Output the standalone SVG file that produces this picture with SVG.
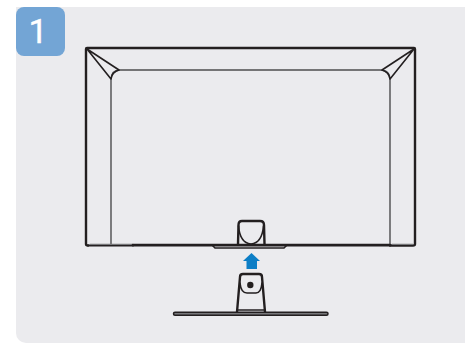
<svg xmlns="http://www.w3.org/2000/svg" width="465" height="343" viewBox="0 0 465 343">
<style>
.k{fill:none;stroke:#231f20;stroke-linejoin:round;stroke-linecap:round}
.o{stroke-width:2.4}
.t{stroke-width:2.8}
.m{stroke-width:1.6}
.g{stroke:#4d4d4f;stroke-width:1.4}
.l{stroke:#77777a;stroke-width:1.2}
</style>
<rect width="465" height="343" fill="#ffffff"/>
<path d="M16 7H465V343H26a10 10 0 0 1-10-10Z" fill="#ebebee"/>
<g id="badge">
<rect x="16" y="7" width="49" height="49" rx="8" fill="#73a5d5"/>
<text x="38" y="43" font-family="Roboto, Arial, sans-serif" font-size="34" fill="#ffffff" stroke="#ffffff" stroke-width="0.4" text-anchor="middle">1</text>
</g>
<g id="monitor">
<path class="k g" d="M111 245V80Q111 70 120 70H380Q390 70 390 80V245"/>
<path class="k m" d="M87 49L119 70Q112 72 111 79ZM414 49L382 70Q389 72 390 79Z"/>
<path class="k o" d="M88 245.500Q86 245.500 86 244V49Q86 48 87 48H414Q415 48 415 49V244Q415 245.500 413 245.500H390"/>
<path class="k" stroke-width="2.200" d="M88 245.500H133"/>
<path class="k l" d="M90 244.300H133M392 244.300H413"/>
<path class="k t" d="M133 245.200H390"/>
<path class="k m" d="M212 245L215 248H284L287 245"/>
<path class="k o" d="M238 244L238.500 225Q238.500 221 242 221H260Q264 221 264 225L264.500 244"/>
<path class="k m" d="M238.500 226Q240 243 251 244Q262 243 263.500 226"/>
</g>
<g id="arrow">
<path d="M251.500 253L243 261H246.500V269H257V261H260Z" fill="#0c7ec6"/>
</g>
<g id="stand">
<path class="k o" d="M237 312L240 277Q240 274 243 274H259Q262 274 262 277L265 312"/>
<path class="k m" d="M240 283Q241 293 247 293H256Q261 293 262 283"/>
<circle cx="250.300" cy="285" r="3.200" fill="#231f20"/>
<path class="k m" d="M238 310H264"/>
<rect x="173.500" y="312.300" width="154.500" height="3" rx="1.500" fill="#77777a" stroke="#231f20" stroke-width="1.500"/>
</g>
</svg>
